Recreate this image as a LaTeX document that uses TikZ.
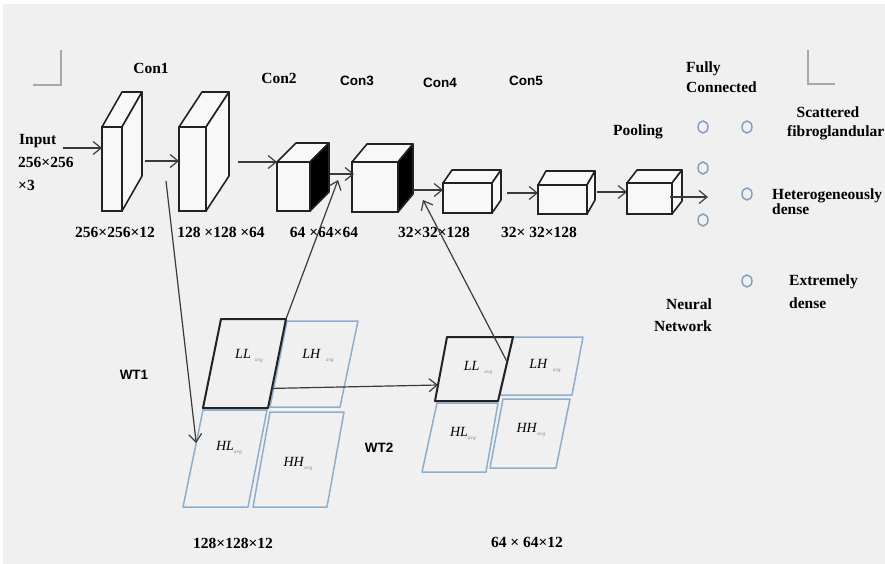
\documentclass[tikz,border=0pt]{standalone}
\usepackage{fontspec}
\setmainfont{Liberation Serif}
\newfontfamily\arialfont{Liberation Sans}
\usetikzlibrary{arrows.meta,calc,shapes.geometric}

\definecolor{bg}{HTML}{F0F0F0}
\definecolor{ink}{HTML}{222222}
\definecolor{wire}{HTML}{3A3A3A}
\definecolor{cellblue}{HTML}{8DAECF}
\definecolor{nodeblue}{HTML}{7E9DC0}
\definecolor{cornermark}{HTML}{A8A8A8}
\definecolor{faceshade}{HTML}{F8F8F8}

\tikzset{
  lbl/.style={font=\fontsize{15.5}{18}\selectfont\bfseries, inner sep=0pt},
  sanslbl/.style={font=\fontsize{13.5}{16}\selectfont\arialfont\bfseries, inner sep=0pt},
  celltext/.style={font=\fontsize{14}{14}\selectfont, inner sep=0pt},
  frontface/.style={draw=ink, line width=1.6pt, fill=faceshade, inner sep=0pt, outer sep=0pt},
  edgeline/.style={draw=ink, line width=1.6pt, line join=round},
  arr/.style={draw=wire, line width=1.2pt,
    -{Straight Barb[length=8pt,width=13pt,line width=1.2pt]}},
  bluecell/.style={draw=cellblue, line width=1.5pt, line join=round},
  darkcell/.style={draw=ink, line width=2pt, line join=round},
  unit/.style={ellipse, draw=nodeblue, line width=1.4pt,
    minimum width=10pt, minimum height=12pt, inner sep=0pt},
  cornerline/.style={draw=cornermark, line width=1.5pt},
}

% box drawn as a front face node plus a top face and a side face
% #1 name, #2 #3 centre of front face, #4 width, #5 height,
% #6 depth to the right, #7 depth upwards, #8 fill of the side face
\newcommand\blockcube[8]{%
  \node[frontface, minimum width=#4pt, minimum height=#5pt] (#1) at (#2,#3) {};
  \draw[edgeline, fill=faceshade] (#1.north west) -- ++(#6,-#7) -- ++(#4,0)
    -- (#1.north east) -- cycle;
  \draw[edgeline, fill=#8] (#1.north east) -- ++(#6,-#7) -- ++(0,#5)
    -- (#1.south east) -- cycle;
}

% slanted sub-band cell: #1 style, #2 name, #3..#6 corners bl br tr tl
\newcommand\wcell[6]{%
  \coordinate (#2-bl) at (#3);
  \coordinate (#2-br) at (#4);
  \coordinate (#2-tr) at (#5);
  \coordinate (#2-tl) at (#6);
  \draw[#1] (#2-bl) -- (#2-br) -- (#2-tr) -- (#2-tl) -- cycle;
}

% sub-band name with its small "avg" index
\newcommand\wl[2]{\textit{#1}\hspace{#2}\raisebox{-3pt}{\fontsize{5.5}{6}\selectfont\itshape\color{black!45}avg}}

\begin{document}
\begin{tikzpicture}[x=1pt, y=-1pt]
\useasboundingbox (0,0) rectangle (885,564);
\fill[bg] (0,0) rectangle (885,564);
\fill[white] (0,0) rectangle (885,4);
\fill[white] (0,0) rectangle (3,564);

% corner marks
\draw[cornerline] (33,85) -- (61,85) -- (61,50);
\draw[cornerline] (808,50) -- (808,84) -- (835,84);

% convolution and pooling blocks
\blockcube{b1}{112}{169}{20}{84}{20}{35}{faceshade}
\blockcube{b2}{192.5}{169}{27}{84}{23}{35}{faceshade}
\blockcube{c2}{293.5}{186.5}{33}{49}{19}{19}{black}
\blockcube{c3}{375}{187}{46}{50}{15}{18}{black}
\blockcube{c4}{467.5}{198}{49}{30}{9}{13}{faceshade}
\blockcube{c5}{562.5}{199.5}{49}{29}{8}{14}{faceshade}
\blockcube{pool}{649.5}{198.5}{45}{31}{10}{13}{faceshade}

% layer titles
\node[lbl, anchor=base] (tcon1) at (151,73.5) {Con1};
\node[lbl, anchor=base] (tcon2) at (279,83.5) {Con2};
\node[sanslbl, anchor=base] (tcon3) at (357,86) {Con3};
\node[sanslbl, anchor=base] (tcon4) at (440,88) {Con4};
\node[sanslbl, anchor=base] (tcon5) at (526,86) {Con5};
\node[lbl, anchor=base] (tpool) at (638,135.5) {Pooling};
\node[lbl, anchor=base west] (tfc1) at (686,72.5) {Fully};
\node[lbl, anchor=base west] (tfc2) at (686,92.5) {Connected};

% input
\node[lbl, anchor=base west] (tin1) at (19,144.5) {Input};
\node[lbl, anchor=base west] (tin2) at (18,167.5) {256×256};
\node[lbl, anchor=base west] (tin3) at (18,190.5) {×3};

% sizes under the blocks
\node[lbl, anchor=base] (d1) at (115,237.5) {256×256×12};
\node[lbl, anchor=base] (d2) at (221,237.5) {128 ×128 ×64};
\node[lbl, anchor=base] (d3) at (324,237.5) {64 ×64×64};
\node[lbl, anchor=base] (d4) at (434,237.5) {32×32×128};
\node[lbl, anchor=base] (d5) at (539,237.5) {32× 32×128};

% main data path
\coordinate (inpt) at (63,148);
\coordinate (outp) at (708,197);
\draw[arr] (inpt) -- ($(b1.west)+(0,-21)$);
\draw[arr] ($(b1.east)+(23,-8)$) -- ($(b2.west)+(0,-8)$);
\draw[arr] ($(b2.east)+(32,-7)$) -- ($(c2.west)+(0,-24.5)$);
\draw[arr] ($(c2.east)+(20,-12.5)$) -- ($(c3.west)+(2,-13)$);
\draw[arr] ($(c3.east)+(15,3)$) -- ($(c4.west)+(0,-8)$);
\draw[arr] ($(c4.east)+(15,-5)$) -- ($(c5.west)+(0,-6.5)$);
\draw[arr] ($(c5.east)+(10,-7.5)$) -- ($(pool.west)+(0,-6.5)$);
\draw[arr] ($(pool.east)+(-2,-1.5)$) -- (outp);

% fully connected units
\node[unit] (u1) at (703,127) {};
\node[unit] (u2) at (703,168) {};
\node[unit] (u3) at (703,220) {};
\node[unit] (v1) at (747,127) {};
\node[unit] (v2) at (747,194) {};
\node[unit] (v3) at (747,281) {};

% classes
\node[lbl, anchor=base] (k1a) at (828,117.5) {Scattered};
\node[lbl, anchor=base west] (k1b) at (787,137) {fibroglandular};
\node[lbl, anchor=base west] (k2a) at (772,199) {Heterogeneously};
\node[lbl, anchor=base west] (k2b) at (772,214) {dense};
\node[lbl, anchor=base west] (k3a) at (789,285) {Extremely};
\node[lbl, anchor=base west] (k3b) at (789,308) {dense};
\node[lbl, anchor=base east] (nn1) at (712,309) {Neural};
\node[lbl, anchor=base east] (nn2) at (712,331) {Network};

% first wavelet level
\wcell{bluecell}{LHa}{270,407}{340,407}{358,321}{287,321}
\wcell{bluecell}{HLa}{183,507}{248,507}{267,410}{203,410}
\wcell{bluecell}{HHa}{253,507}{327,507}{344,412}{270,412}
\wcell{darkcell}{LLa}{203,408}{268,408}{286,319}{221,319}

% second wavelet level
\wcell{bluecell}{LHb}{500,395}{572,395}{583,337}{513,337}
\wcell{bluecell}{HLb}{422,472}{486,472}{498,403}{437,403}
\wcell{bluecell}{HHb}{490,468}{556,468}{570,399}{503,399}
\wcell{darkcell}{LLb}{435,401}{498,401}{513,337}{447,337}

% sub-band names
\node[celltext] (nLLa) at (249,356) {\wl{LL}{4pt}};
\node[celltext] (nLHa) at (318,356) {\wl{LH}{5pt}};
\node[celltext] (nHLa) at (229,448) {\wl{HL}{0pt}};
\node[celltext] (nHHa) at (298,464) {\wl{HH}{0pt}};
\node[celltext] (nLLb) at (478,368) {\wl{LL}{5pt}};
\node[celltext] (nLHb) at (545,366) {\wl{LH}{5pt}};
\node[celltext] (nHLb) at (463,434) {\wl{HL}{0pt}};
\node[celltext] (nHHb) at (531,430) {\wl{HH}{0pt}};

\node[sanslbl, anchor=base] (twt1) at (134,379) {WT1};
\node[sanslbl, anchor=base] (twt2) at (379,452) {WT2};
\node[lbl, anchor=base] (s1) at (233,548) {128×128×12};
\node[lbl, anchor=base] (s2) at (527,547) {64 × 64×12};

% wavelet branches
\coordinate (tap1) at (166,181);
\coordinate (tap2) at (338,180);
\coordinate (tap3) at (423,200);
\draw[arr] (tap1) -- ($(HLa-bl)!0.66!(HLa-tl)$);
\draw[arr] (LLa-tr) -- (tap2);
\draw[arr] ($(LLa-br)!0.22!(LLa-tr)$) -- ($(LLb-bl)!0.25!(LLb-tl)$);
\draw[arr] ($(LLb-br)!0.61!(LLb-tr)$) -- (tap3);
\end{tikzpicture}
\end{document}
